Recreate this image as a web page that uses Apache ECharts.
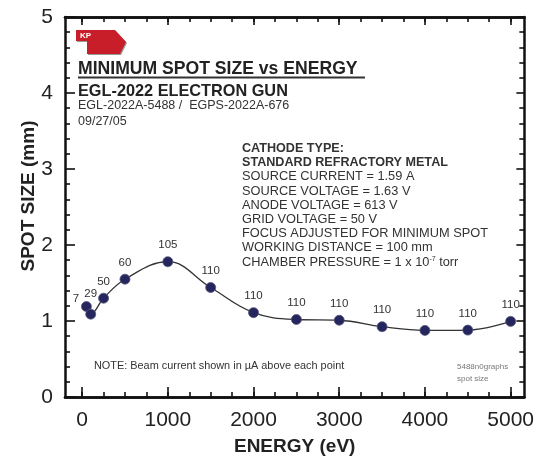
<!DOCTYPE html>
<html>
<head>
<meta charset="utf-8">
<script src="https://cdn.jsdelivr.net/npm/echarts@6/dist/echarts.min.js"></script>
<style>html,body{margin:0;padding:0;background:#fff;}#c{width:537px;height:462px;}</style>
</head>
<body>
<div id="c"></div>
<script>
// ---- data ----
const energy = [50, 100, 250, 500, 1000, 1500, 2000, 2500, 3000, 3500, 4000, 4500, 5000];
const spotSize = [1.19, 1.09, 1.30, 1.55, 1.78, 1.44, 1.11, 1.02, 1.01, 0.925, 0.876, 0.88, 0.995];
const beamCurrent = ['7', '29', '50', '60', '105', '110', '110', '110', '110', '110', '110', '110', '110'];
const xTickLabels = [0, 1000, 2000, 3000, 4000, 5000];
const xMinorTicks = [0, 250, 500, 750, 1000, 1250, 1500, 1750, 2000, 2250, 2500, 2750, 3000, 3250, 3500, 3750, 4000, 4250, 4500, 4750, 5000];
const yTickLabels = [0, 1, 2, 3, 4, 5];
const infoLines = [
  ['CATHODE TYPE:', true],
  ['STANDARD REFRACTORY METAL', true],
  ['SOURCE CURRENT = 1.59 A', false],
  ['SOURCE VOLTAGE = 1.63 V', false],
  ['ANODE VOLTAGE = 613 V', false],
  ['GRID VOLTAGE = 50 V', false],
  ['FOCUS ADJUSTED FOR MINIMUM SPOT', false],
  ['WORKING DISTANCE = 100 mm', false]
];

const FONT = '"Liberation Sans", Arial, Helvetica, sans-serif';
const chart = echarts.init(document.getElementById('c'), null, {renderer: 'canvas'});

const seriesData = energy.map((e, i) => {
  const d = {value: [e, spotSize[i]]};
  if (i === 0) d.label = {position: 'left', distance: 2, offset: [0, -8]};
  if (i === 1) d.label = {position: 'top', distance: 9, offset: [0, 0]};
  return d;
});

const xCommon = {type: 'value', min: -200, max: 5160, splitLine: {show: false}};
const tickStyle = {color: '#111', width: 1.6};
const frameLine = {show: true, onZero: false, lineStyle: {color: '#111', width: 2.5}};

const graphics = [
  // KP logo
  {type: 'polygon', shape: {points: [[77, 31], [116, 31], [127, 43], [121, 55], [88, 55], [88, 42], [77, 42]]},
   style: {fill: '#999'}, z: 10},
  {type: 'polygon', shape: {points: [[76, 30], [115, 30], [126, 42], [120, 54], [87, 54], [87, 41], [76, 41]]},
   style: {fill: '#c81e2a'}, z: 11},
  {type: 'text', x: 80, y: 36, z: 12, style: {text: 'KP', fill: '#fff', font: 'bold 8px ' + FONT, textAlign: 'left', textVerticalAlign: 'middle'}},
  // title
  {type: 'text', x: 78, y: 69, style: {text: 'MINIMUM SPOT SIZE vs ENERGY', fill: '#222', font: 'bold 17.6px ' + FONT, textAlign: 'left', textVerticalAlign: 'middle'}},
  {type: 'rect', shape: {x: 78, y: 76.5, width: 287, height: 2}, style: {fill: '#333'}},
  {type: 'text', x: 78, y: 91.5, style: {text: 'EGL-2022 ELECTRON GUN', fill: '#222', font: 'bold 16.3px ' + FONT, textAlign: 'left', textVerticalAlign: 'middle'}},
  {type: 'text', x: 78, y: 106, style: {text: 'EGL-2022A-5488 /  EGPS-2022A-676', fill: '#333', font: '12.5px ' + FONT, textAlign: 'left', textVerticalAlign: 'middle'}},
  {type: 'text', x: 78, y: 121.5, style: {text: '09/27/05', fill: '#333', font: '12.5px ' + FONT, textAlign: 'left', textVerticalAlign: 'middle'}},
  // y axis name
  {type: 'text', x: 29, y: 196, rotation: Math.PI / 2, style: {text: 'SPOT SIZE (mm)', fill: '#222', font: 'bold 19px ' + FONT, textAlign: 'center', textVerticalAlign: 'middle'}},
  // note
  {type: 'text', x: 94, y: 366, style: {text: 'NOTE: Beam current shown in \u00b5A above each point', fill: '#333', font: '10.9px ' + FONT, textAlign: 'left', textVerticalAlign: 'middle'}},
  {type: 'text', x: 457, y: 367, style: {text: '5488n0graphs', fill: '#777', font: '8px ' + FONT, textAlign: 'left', textVerticalAlign: 'middle'}},
  {type: 'text', x: 457, y: 379, style: {text: 'spot size', fill: '#777', font: '8px ' + FONT, textAlign: 'left', textVerticalAlign: 'middle'}}
];
const lineStart = 148.5, lineStep = 14.2;
infoLines.forEach((l, i) => {
  graphics.push({type: 'text', x: 242, y: lineStart + i * lineStep,
    style: {text: l[0], fill: '#333', font: (l[1] ? 'bold 12.6px ' : '12.8px ') + FONT, textAlign: 'left', textVerticalAlign: 'middle'}});
});
graphics.push({type: 'text', x: 242, y: lineStart + infoLines.length * lineStep,
  style: {text: '{a|CHAMBER PRESSURE = 1 x 10}{s|-7}{a| torr}', fill: '#333', textAlign: 'left', textVerticalAlign: 'middle',
    rich: {a: {font: '12.8px ' + FONT, fill: '#333', lineHeight: 14}, s: {font: '7px ' + FONT, fill: '#333', verticalAlign: 'top', lineHeight: 14}}}});

chart.setOption({
  animation: false,
  backgroundColor: '#fff',
  grid: {left: 65, right: 12, top: 17, bottom: 65, show: false},
  xAxis: [
    Object.assign({}, xCommon, {position: 'bottom',
      axisLine: frameLine,
      axisTick: {show: true, inside: true, length: 10, customValues: xTickLabels, lineStyle: tickStyle},
      axisLabel: {show: true, customValues: xTickLabels, fontSize: 21, color: '#222', fontFamily: FONT, margin: 13,
        formatter: v => String(v)},
      name: 'ENERGY (eV)', nameLocation: 'middle', nameGap: 40,
      nameTextStyle: {fontSize: 19, fontWeight: 'bold', color: '#222', fontFamily: FONT}}),
    Object.assign({}, xCommon, {position: 'bottom',
      axisLine: frameLine,
      axisTick: {show: true, inside: true, length: 5, customValues: xMinorTicks, lineStyle: tickStyle},
      axisLabel: {show: false}}),
    Object.assign({}, xCommon, {position: 'top',
      axisLine: frameLine,
      axisTick: {show: true, inside: true, length: 8, customValues: xTickLabels, lineStyle: tickStyle},
      axisLabel: {show: false}}),
    Object.assign({}, xCommon, {position: 'top',
      axisLine: frameLine,
      axisTick: {show: true, inside: true, length: 5, customValues: xMinorTicks, lineStyle: tickStyle},
      axisLabel: {show: false}})
  ],
  yAxis: [
    {type: 'value', min: 0, max: 5, interval: 1, position: 'left',
      axisLine: frameLine, splitLine: {show: false},
      axisTick: {show: true, inside: true, length: 10, lineStyle: tickStyle},
      minorTick: {show: true, splitNumber: 5, length: 5, lineStyle: tickStyle},
      axisLabel: {show: true, fontSize: 21, color: '#222', fontFamily: FONT, margin: 12,
        formatter: v => yTickLabels.indexOf(v) >= 0 ? String(v) : ''}},
    {type: 'value', min: 0, max: 5, interval: 1, position: 'right',
      axisLine: frameLine, splitLine: {show: false},
      axisTick: {show: true, inside: true, length: 8, lineStyle: tickStyle},
      minorTick: {show: true, splitNumber: 5, length: 5, lineStyle: tickStyle},
      axisLabel: {show: false}}
  ],
  series: [{
    type: 'line', xAxisIndex: 0, yAxisIndex: 0,
    data: seriesData,
    smooth: 0.4,
    symbol: 'circle', symbolSize: 10,
    lineStyle: {color: '#333', width: 1.3},
    itemStyle: {color: '#26265e', borderColor: '#55557a', borderWidth: 0.8},
    label: {show: true, position: 'top', distance: 5, fontSize: 11.5, color: '#333', fontFamily: FONT,
      formatter: p => beamCurrent[p.dataIndex]},
    z: 5
  }],
  graphic: graphics
});
</script>
</body>
</html>
